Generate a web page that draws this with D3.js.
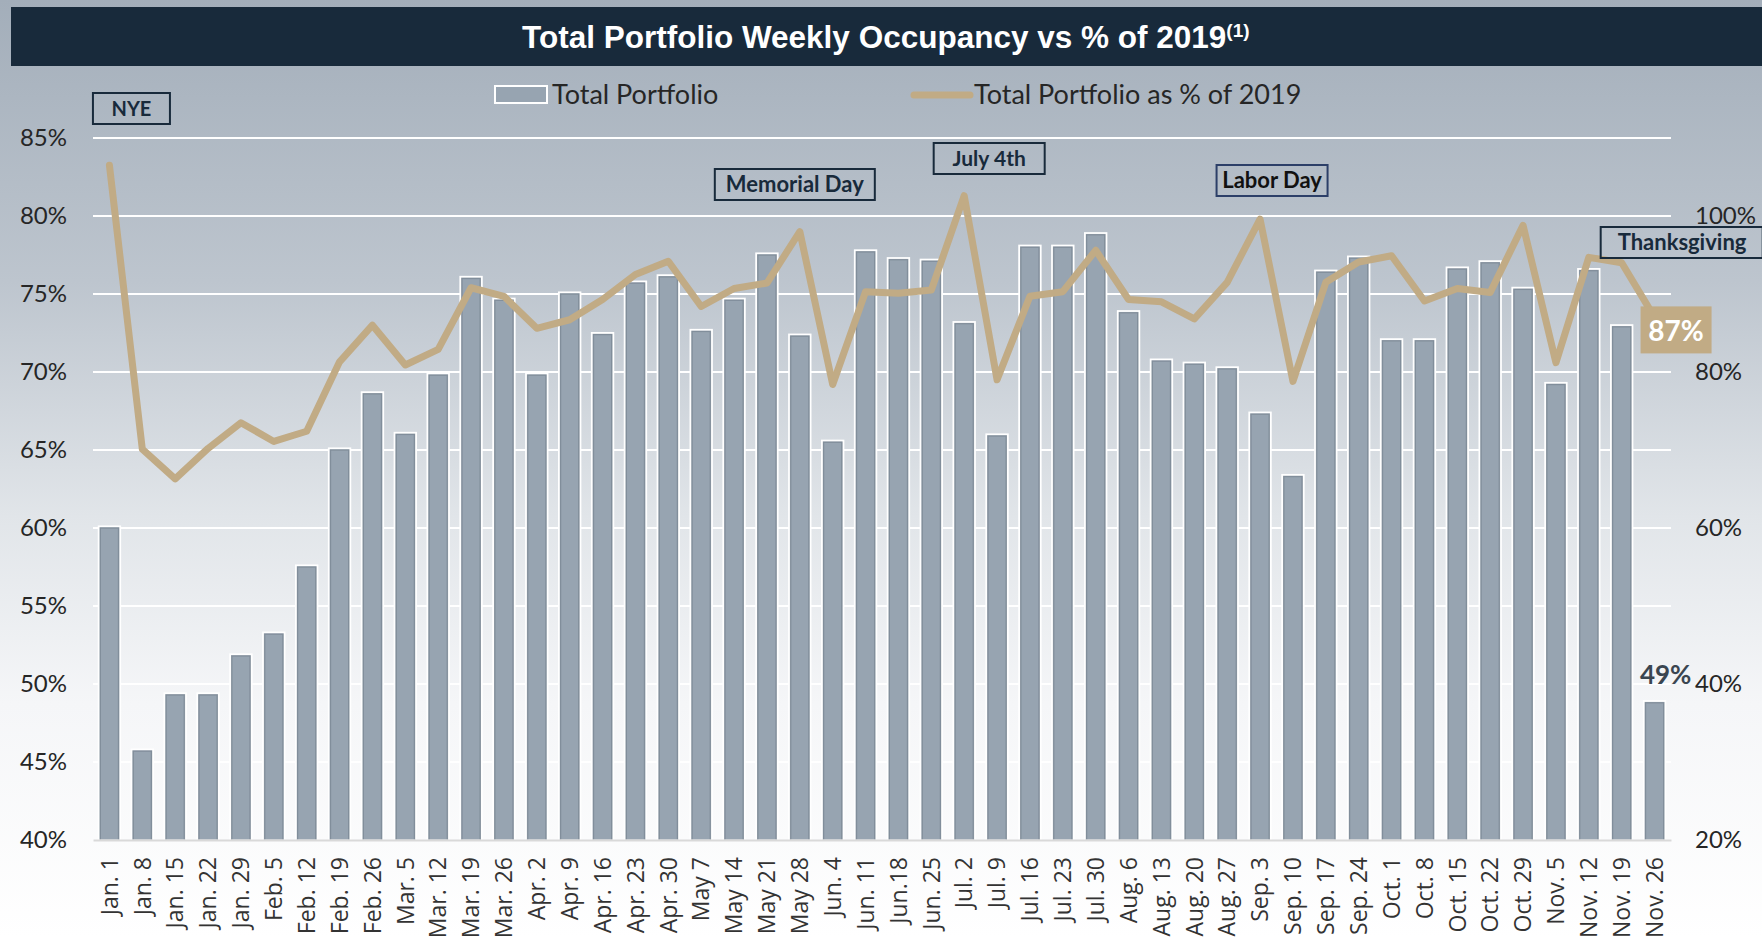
<!DOCTYPE html>
<html>
<head>
<meta charset="utf-8">
<script src="https://cdn.jsdelivr.net/npm/d3@7/dist/d3.min.js"></script>
<style>
  body { margin: 0; background: #fff; }
  svg { display: block; }
</style>
</head>
<body>
<div id="chart"></div>
<script>
// weekly data
const weeks = [
  "Jan. 1", "Jan. 8", "Jan. 15", "Jan. 22", "Jan. 29", "Feb. 5", "Feb. 12", "Feb. 19",
  "Feb. 26", "Mar. 5", "Mar. 12", "Mar. 19", "Mar. 26", "Apr. 2", "Apr. 9", "Apr. 16",
  "Apr. 23", "Apr. 30", "May 7", "May 14", "May 21", "May 28", "Jun. 4", "Jun. 11",
  "Jun.18", "Jun. 25", "Jul. 2", "Jul. 9", "Jul. 16", "Jul. 23", "Jul. 30", "Aug. 6",
  "Aug. 13", "Aug. 20", "Aug. 27", "Sep. 3", "Sep. 10", "Sep. 17", "Sep. 24", "Oct. 1",
  "Oct. 8", "Oct. 15", "Oct. 22", "Oct. 29", "Nov. 5", "Nov. 12", "Nov. 19", "Nov. 26"
];

// Total Portfolio occupancy (%), left axis
const occupancy = [
  60.1, 45.8, 49.4, 49.4, 51.9, 53.3, 57.6, 65.1,
  68.7, 66.1, 69.9, 76.1, 74.7, 69.9, 75.1, 72.5,
  75.8, 76.2, 72.7, 74.7, 77.6, 72.4, 65.6, 77.8,
  77.3, 77.2, 73.2, 66.0, 78.1, 78.1, 78.9, 73.9,
  70.8, 70.6, 70.3, 67.4, 63.4, 76.5, 77.4, 72.1,
  72.1, 76.7, 77.1, 75.4, 69.3, 76.6, 73.0, 48.9
];

// Total Portfolio as % of 2019, right axis
const pctOf2019 = [
  106.5, 70.1, 66.3, 70.2, 73.5, 71.1, 72.4, 81.3,
  86.0, 80.9, 82.9, 90.8, 89.7, 85.6, 86.7, 89.3,
  92.5, 94.2, 88.4, 90.7, 91.4, 98.0, 78.4, 90.3,
  90.1, 90.5, 102.6, 79.0, 89.7, 90.3, 95.6, 89.3,
  89.0, 86.8, 91.5, 99.6, 78.8, 91.5, 94.1, 94.9,
  89.1, 90.7, 90.2, 98.8, 81.2, 94.7, 94.0, 87.0
];

const leftTicks = [40, 45, 50, 55, 60, 65, 70, 75, 80, 85];
const rightTicks = [20, 40, 60, 80, 100];

const holidays = [
  { text: "NYE", week: "Jan. 1" },
  { text: "Memorial Day", week: "May 28" },
  { text: "July 4th", week: "Jul. 2" },
  { text: "Labor Day", week: "Sep. 3" },
  { text: "Thanksgiving", week: "Nov. 19" }
];

const seriesNames = ["Total Portfolio", "Total Portfolio as % of 2019"];

const W = 1762, H = 938;
const plot = { left: 93, right: 1671, top: 138, bottom: 840 };

const barColor = "#97a4b1";
const lineColor = "#c1ab85";
const navy = "#182a3b";
const textColor = "#262626";

const svg = d3.select("#chart").append("svg")
  .attr("width", W)
  .attr("height", H)
  .style("font-family", "Lato, 'Open Sans', sans-serif");

// background gradient
const defs = svg.append("defs");
const grad = defs.append("linearGradient")
  .attr("id", "bg").attr("x1", 0).attr("y1", 0).attr("x2", 0).attr("y2", 1);
[[0, "#a3aeba"], [0.3, "#bdc5ce"], [0.55, "#e1e5e9"], [0.75, "#f5f6f8"], [1, "#ffffff"]]
  .forEach(s => grad.append("stop").attr("offset", s[0]).attr("stop-color", s[1]));

svg.append("rect").attr("width", W).attr("height", H).attr("fill", "url(#bg)");

// title band
svg.append("rect")
  .attr("x", 11).attr("y", 7)
  .attr("width", W - 11).attr("height", 59)
  .attr("fill", navy);

const title = svg.append("text")
  .attr("x", 522).attr("y", 48)
  .attr("fill", "#fff")
  .style("font-family", "'Liberation Sans Narrow', 'Arial Narrow', 'Liberation Sans', sans-serif")
  .style("font-weight", "bold")
  .style("font-size", "31.5px");
const mainTitle = title.append("tspan").text("Total Portfolio Weekly Occupancy vs % of 2019");
title.append("tspan")
  .attr("dy", -11)
  .style("font-size", "19px")
  .text("(1)");

// scales
const x = d3.scaleBand()
  .domain(weeks)
  .range([plot.left, plot.right])
  .paddingInner(0.35)
  .paddingOuter(0.175);

const yL = d3.scaleLinear().domain([40, 85]).range([plot.bottom, plot.top]);
const yR = d3.scaleLinear().domain([20, 110]).range([plot.bottom, plot.top]);

const cx = w => x(w) + x.bandwidth() / 2;

// gridlines
svg.append("g")
  .selectAll("line")
  .data(leftTicks.slice(1))
  .join("line")
  .attr("x1", plot.left).attr("x2", plot.right)
  .attr("y1", d => yL(d)).attr("y2", d => yL(d))
  .attr("stroke", "#ffffff")
  .attr("stroke-width", 2);

// left axis
const axisL = svg.append("g")
  .attr("transform", `translate(${plot.left},0)`)
  .call(d3.axisLeft(yL).tickValues(leftTicks).tickFormat(d => d + "%").tickSize(0).tickPadding(26));
axisL.select(".domain").remove();
axisL.selectAll("text")
  .attr("fill", textColor)
  .style("font-family", "Lato, sans-serif")
  .style("font-size", "24px");

// right axis
const axisR = svg.append("g")
  .attr("transform", `translate(${plot.right},0)`)
  .call(d3.axisRight(yR).tickValues(rightTicks).tickFormat(d => d + "%").tickSize(0).tickPadding(24));
axisR.select(".domain").remove();
axisR.selectAll("text")
  .attr("fill", textColor)
  .style("font-family", "Lato, sans-serif")
  .style("font-size", "24px");

// bars
const bars = svg.append("g");
bars.selectAll("rect.bar")
  .data(weeks)
  .join("rect")
  .attr("class", "bar")
  .attr("x", d => x(d))
  .attr("y", (d, i) => yL(occupancy[i]))
  .attr("width", x.bandwidth())
  .attr("height", (d, i) => plot.bottom - yL(occupancy[i]))
  .attr("fill", barColor)
  .attr("stroke", "#ffffff")
  .attr("stroke-width", 2);
bars.selectAll("rect.shade")
  .data(weeks)
  .join("rect")
  .attr("class", "shade")
  .attr("x", d => x(d) + 1.5)
  .attr("y", (d, i) => yL(occupancy[i]) + 1.5)
  .attr("width", x.bandwidth() - 3)
  .attr("height", (d, i) => plot.bottom - yL(occupancy[i]) - 1.5)
  .attr("fill", "none")
  .attr("stroke", "#6f7c89")
  .attr("stroke-opacity", 0.55)
  .attr("stroke-width", 1.5);

// x axis
const axisX = svg.append("g")
  .attr("transform", `translate(0,${plot.bottom})`)
  .call(d3.axisBottom(x).tickSize(0).tickPadding(0));
axisX.select(".domain")
  .attr("stroke", "#d9d9d9")
  .attr("stroke-width", 2);
axisX.selectAll("text")
  .attr("fill", "#333")
  .style("font-family", "'Open Sans', sans-serif")
  .style("font-size", "23px")
  .attr("text-anchor", "end")
  .attr("transform", "translate(0,17) rotate(-90)")
  .attr("x", 0).attr("y", 0).attr("dy", "0.36em");

// line
const line = d3.line()
  .x((d, i) => cx(weeks[i]))
  .y(d => yR(d));

svg.append("path")
  .datum(pctOf2019)
  .attr("d", line)
  .attr("fill", "none")
  .attr("stroke", lineColor)
  .attr("stroke-width", 7)
  .attr("stroke-linejoin", "round")
  .attr("stroke-linecap", "round");

// end labels
const lastWeek = weeks[weeks.length - 1];
const lastOcc = occupancy[occupancy.length - 1];
const lastPct = pctOf2019[pctOf2019.length - 1];

svg.append("text")
  .attr("x", x(lastWeek) - 4)
  .attr("y", yL(lastOcc) - 17)
  .attr("fill", "#3a4550")
  .style("font-weight", "bold")
  .style("font-size", "26px")
  .text(Math.round(lastOcc) + "%");

const boxX = cx(lastWeek) - 14, boxY = yR(lastPct) - 11;
svg.append("rect")
  .attr("x", boxX).attr("y", boxY)
  .attr("width", 71).attr("height", 47)
  .attr("fill", lineColor);
svg.append("text")
  .attr("x", boxX + 35.5).attr("y", boxY + 35)
  .attr("text-anchor", "middle")
  .attr("fill", "#fff")
  .style("font-weight", "bold")
  .style("font-size", "28px")
  .text(Math.round(lastPct) + "%");

// holiday callouts: box centre offset from the week and its top edge
const noteLayout = {
  "NYE": { dx: 22, top: 93, w: 77, size: 20, stroke: navy, color: navy },
  "Memorial Day": { dx: -5, top: 169, w: 160, size: 22, stroke: navy, color: navy },
  "July 4th": { dx: 25, top: 143, w: 111, size: 21, stroke: navy, color: navy },
  "Labor Day": { dx: 12, top: 165, w: 111, size: 22, stroke: "#2c3f68", color: "#111" },
  "Thanksgiving": { dx: 60, top: 227, w: 162, size: 22, stroke: navy, color: navy }
};

const notes = svg.append("g");
holidays.forEach(h => {
  const L = noteLayout[h.text];
  const c = cx(h.week) + L.dx;
  notes.append("rect")
    .attr("x", c - L.w / 2).attr("y", L.top)
    .attr("width", L.w).attr("height", 31)
    .attr("fill", "none")
    .attr("stroke", L.stroke)
    .attr("stroke-width", 2);
  notes.append("text")
    .attr("x", h.text === "Thanksgiving" ? c - L.w / 2 + 17 : c)
    .attr("y", L.top + 23)
    .attr("text-anchor", h.text === "Thanksgiving" ? "start" : "middle")
    .attr("fill", L.color)
    .style("font-weight", "bold")
    .style("font-size", L.size + "px")
    .text(h.text);
});

// legend
const legend = svg.append("g").style("font-size", "27px").attr("fill", textColor);
legend.append("rect")
  .attr("x", 495).attr("y", 86)
  .attr("width", 52).attr("height", 17)
  .attr("fill", barColor)
  .attr("stroke", "#fff").attr("stroke-width", 2);
legend.append("text").attr("x", 552).attr("y", 104).text(seriesNames[0]);
legend.append("line")
  .attr("x1", 914).attr("x2", 970)
  .attr("y1", 95).attr("y2", 95)
  .attr("stroke", lineColor)
  .attr("stroke-width", 7)
  .attr("stroke-linecap", "round");
legend.append("text").attr("x", 974).attr("y", 104).text(seriesNames[1]);

// keep the title the same width as the original
const tw = mainTitle.node().getComputedTextLength();
if (Math.abs(tw - 706) > 15) mainTitle.attr("textLength", 706).attr("lengthAdjust", "spacingAndGlyphs");
</script>
</body>
</html>
